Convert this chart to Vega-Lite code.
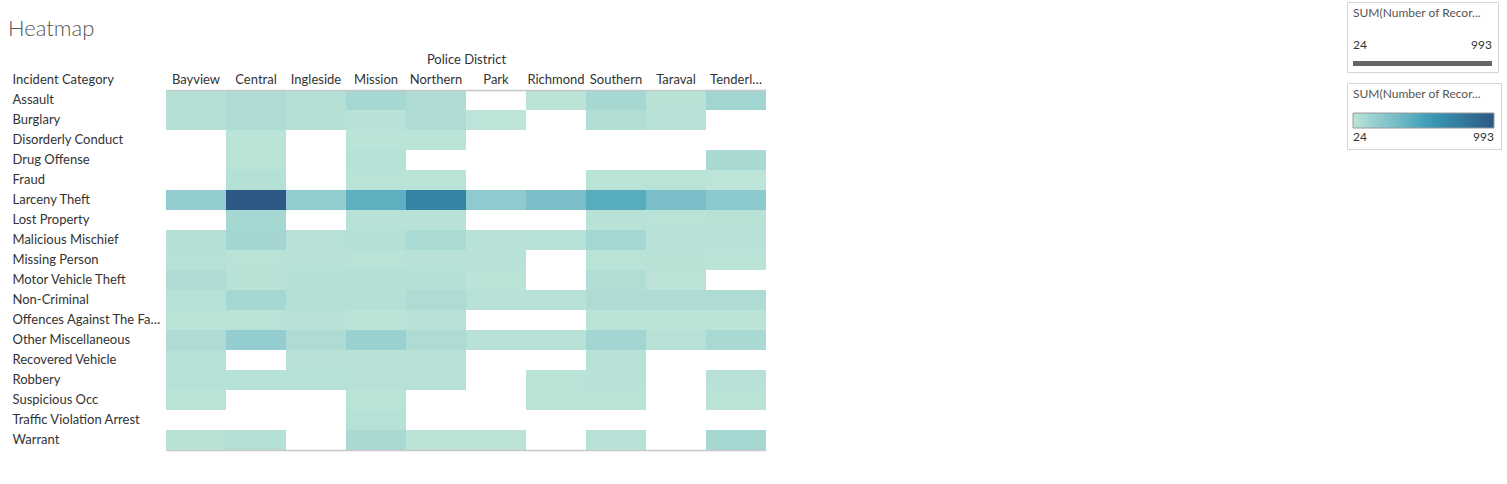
{
  "$schema": "https://vega.github.io/schema/vega-lite/v6.json",
  "width": 600,
  "height": 360,
  "autosize": {"type": "none"},
  "padding": {"left": 166, "top": 90, "right": 741, "bottom": 34},
  "background": "white",
  "config": {"view": {"stroke": null}, "font": "Lato"},
  "title": {"text": "Heatmap", "anchor": "start", "frame": "group", "dx": -158, "dy": 53, "offset": 14, "fontSize": 22, "font": "Lato", "fontWeight": 300, "color": "#555555"},
  "data": {"values": [
    {"category": "Assault", "district": "Bayview", "records": 55},
    {"category": "Assault", "district": "Central", "records": 78},
    {"category": "Assault", "district": "Ingleside", "records": 55},
    {"category": "Assault", "district": "Mission", "records": 110},
    {"category": "Assault", "district": "Northern", "records": 78},
    {"category": "Assault", "district": "Richmond", "records": 28},
    {"category": "Assault", "district": "Southern", "records": 110},
    {"category": "Assault", "district": "Taraval", "records": 36},
    {"category": "Assault", "district": "Tenderloin", "records": 130},
    {"category": "Burglary", "district": "Bayview", "records": 55},
    {"category": "Burglary", "district": "Central", "records": 78},
    {"category": "Burglary", "district": "Ingleside", "records": 55},
    {"category": "Burglary", "district": "Mission", "records": 40},
    {"category": "Burglary", "district": "Northern", "records": 78},
    {"category": "Burglary", "district": "Park", "records": 24},
    {"category": "Burglary", "district": "Southern", "records": 70},
    {"category": "Burglary", "district": "Taraval", "records": 40},
    {"category": "Disorderly Conduct", "district": "Central", "records": 26},
    {"category": "Disorderly Conduct", "district": "Mission", "records": 26},
    {"category": "Disorderly Conduct", "district": "Northern", "records": 26},
    {"category": "Drug Offense", "district": "Central", "records": 32},
    {"category": "Drug Offense", "district": "Mission", "records": 47},
    {"category": "Drug Offense", "district": "Tenderloin", "records": 102},
    {"category": "Fraud", "district": "Central", "records": 55},
    {"category": "Fraud", "district": "Mission", "records": 32},
    {"category": "Fraud", "district": "Northern", "records": 32},
    {"category": "Fraud", "district": "Southern", "records": 32},
    {"category": "Fraud", "district": "Taraval", "records": 30},
    {"category": "Fraud", "district": "Tenderloin", "records": 25},
    {"category": "Larceny Theft", "district": "Bayview", "records": 190},
    {"category": "Larceny Theft", "district": "Central", "records": 993},
    {"category": "Larceny Theft", "district": "Ingleside", "records": 195},
    {"category": "Larceny Theft", "district": "Mission", "records": 412},
    {"category": "Larceny Theft", "district": "Northern", "records": 710},
    {"category": "Larceny Theft", "district": "Park", "records": 210},
    {"category": "Larceny Theft", "district": "Richmond", "records": 292},
    {"category": "Larceny Theft", "district": "Southern", "records": 440},
    {"category": "Larceny Theft", "district": "Taraval", "records": 292},
    {"category": "Larceny Theft", "district": "Tenderloin", "records": 218},
    {"category": "Lost Property", "district": "Central", "records": 110},
    {"category": "Lost Property", "district": "Mission", "records": 40},
    {"category": "Lost Property", "district": "Northern", "records": 40},
    {"category": "Lost Property", "district": "Southern", "records": 40},
    {"category": "Lost Property", "district": "Taraval", "records": 32},
    {"category": "Lost Property", "district": "Tenderloin", "records": 36},
    {"category": "Malicious Mischief", "district": "Bayview", "records": 55},
    {"category": "Malicious Mischief", "district": "Central", "records": 122},
    {"category": "Malicious Mischief", "district": "Ingleside", "records": 40},
    {"category": "Malicious Mischief", "district": "Mission", "records": 55},
    {"category": "Malicious Mischief", "district": "Northern", "records": 94},
    {"category": "Malicious Mischief", "district": "Park", "records": 40},
    {"category": "Malicious Mischief", "district": "Richmond", "records": 47},
    {"category": "Malicious Mischief", "district": "Southern", "records": 110},
    {"category": "Malicious Mischief", "district": "Taraval", "records": 40},
    {"category": "Malicious Mischief", "district": "Tenderloin", "records": 40},
    {"category": "Missing Person", "district": "Bayview", "records": 47},
    {"category": "Missing Person", "district": "Central", "records": 32},
    {"category": "Missing Person", "district": "Ingleside", "records": 40},
    {"category": "Missing Person", "district": "Mission", "records": 32},
    {"category": "Missing Person", "district": "Northern", "records": 40},
    {"category": "Missing Person", "district": "Park", "records": 40},
    {"category": "Missing Person", "district": "Southern", "records": 32},
    {"category": "Missing Person", "district": "Taraval", "records": 36},
    {"category": "Missing Person", "district": "Tenderloin", "records": 26},
    {"category": "Motor Vehicle Theft", "district": "Bayview", "records": 78},
    {"category": "Motor Vehicle Theft", "district": "Central", "records": 36},
    {"category": "Motor Vehicle Theft", "district": "Ingleside", "records": 51},
    {"category": "Motor Vehicle Theft", "district": "Mission", "records": 51},
    {"category": "Motor Vehicle Theft", "district": "Northern", "records": 55},
    {"category": "Motor Vehicle Theft", "district": "Park", "records": 26},
    {"category": "Motor Vehicle Theft", "district": "Southern", "records": 70},
    {"category": "Motor Vehicle Theft", "district": "Taraval", "records": 28},
    {"category": "Non-Criminal", "district": "Bayview", "records": 47},
    {"category": "Non-Criminal", "district": "Central", "records": 110},
    {"category": "Non-Criminal", "district": "Ingleside", "records": 55},
    {"category": "Non-Criminal", "district": "Mission", "records": 55},
    {"category": "Non-Criminal", "district": "Northern", "records": 78},
    {"category": "Non-Criminal", "district": "Park", "records": 40},
    {"category": "Non-Criminal", "district": "Richmond", "records": 40},
    {"category": "Non-Criminal", "district": "Southern", "records": 78},
    {"category": "Non-Criminal", "district": "Taraval", "records": 78},
    {"category": "Non-Criminal", "district": "Tenderloin", "records": 78},
    {"category": "Offences Against The Family", "district": "Bayview", "records": 32},
    {"category": "Offences Against The Family", "district": "Central", "records": 32},
    {"category": "Offences Against The Family", "district": "Ingleside", "records": 40},
    {"category": "Offences Against The Family", "district": "Mission", "records": 28},
    {"category": "Offences Against The Family", "district": "Northern", "records": 40},
    {"category": "Offences Against The Family", "district": "Southern", "records": 28},
    {"category": "Offences Against The Family", "district": "Taraval", "records": 28},
    {"category": "Offences Against The Family", "district": "Tenderloin", "records": 28},
    {"category": "Other Miscellaneous", "district": "Bayview", "records": 78},
    {"category": "Other Miscellaneous", "district": "Central", "records": 189},
    {"category": "Other Miscellaneous", "district": "Ingleside", "records": 78},
    {"category": "Other Miscellaneous", "district": "Mission", "records": 162},
    {"category": "Other Miscellaneous", "district": "Northern", "records": 78},
    {"category": "Other Miscellaneous", "district": "Park", "records": 40},
    {"category": "Other Miscellaneous", "district": "Richmond", "records": 40},
    {"category": "Other Miscellaneous", "district": "Southern", "records": 122},
    {"category": "Other Miscellaneous", "district": "Taraval", "records": 44},
    {"category": "Other Miscellaneous", "district": "Tenderloin", "records": 102},
    {"category": "Recovered Vehicle", "district": "Bayview", "records": 47},
    {"category": "Recovered Vehicle", "district": "Ingleside", "records": 40},
    {"category": "Recovered Vehicle", "district": "Mission", "records": 40},
    {"category": "Recovered Vehicle", "district": "Northern", "records": 40},
    {"category": "Recovered Vehicle", "district": "Southern", "records": 40},
    {"category": "Robbery", "district": "Bayview", "records": 47},
    {"category": "Robbery", "district": "Central", "records": 47},
    {"category": "Robbery", "district": "Ingleside", "records": 47},
    {"category": "Robbery", "district": "Mission", "records": 44},
    {"category": "Robbery", "district": "Northern", "records": 44},
    {"category": "Robbery", "district": "Richmond", "records": 26},
    {"category": "Robbery", "district": "Southern", "records": 40},
    {"category": "Robbery", "district": "Tenderloin", "records": 40},
    {"category": "Suspicious Occ", "district": "Bayview", "records": 26},
    {"category": "Suspicious Occ", "district": "Mission", "records": 26},
    {"category": "Suspicious Occ", "district": "Richmond", "records": 26},
    {"category": "Suspicious Occ", "district": "Southern", "records": 26},
    {"category": "Suspicious Occ", "district": "Tenderloin", "records": 26},
    {"category": "Traffic Violation Arrest", "district": "Mission", "records": 47},
    {"category": "Warrant", "district": "Bayview", "records": 36},
    {"category": "Warrant", "district": "Central", "records": 55},
    {"category": "Warrant", "district": "Mission", "records": 102},
    {"category": "Warrant", "district": "Northern", "records": 28},
    {"category": "Warrant", "district": "Park", "records": 28},
    {"category": "Warrant", "district": "Southern", "records": 40},
    {"category": "Warrant", "district": "Tenderloin", "records": 110}
  ]},
  "layer": [
    {
      "mark": {"type": "rect", "strokeWidth": 0},
      "encoding": {
        "x": {
          "field": "district", "type": "nominal",
          "sort": ["Bayview", "Central", "Ingleside", "Mission", "Northern", "Park", "Richmond", "Southern", "Taraval", "Tenderloin"],
          "scale": {"paddingInner": 0, "paddingOuter": 0},
          "axis": {
            "orient": "top", "title": "Police District", "zindex": 2,
            "titleFont": "Lato", "titleFontSize": 13, "titleFontWeight": "normal", "titleColor": "#333333",
            "titleBaseline": "middle", "titleY": -31,
            "labelAngle": 0, "labelBaseline": "middle", "labelPadding": 11,
            "labelFont": "Lato", "labelFontSize": 13, "labelColor": "#333333", "labelLimit": 58,
            "ticks": false, "tickSize": 0, "domain": true, "domainColor": "#c8c8c8", "domainWidth": 1.5, "grid": false
          }
        },
        "y": {
          "field": "category", "type": "nominal",
          "sort": ["Assault", "Burglary", "Disorderly Conduct", "Drug Offense", "Fraud", "Larceny Theft", "Lost Property", "Malicious Mischief", "Missing Person", "Motor Vehicle Theft", "Non-Criminal", "Offences Against The Family", "Other Miscellaneous", "Recovered Vehicle", "Robbery", "Suspicious Occ", "Traffic Violation Arrest", "Warrant"],
          "scale": {"paddingInner": 0, "paddingOuter": 0},
          "axis": {
            "orient": "left", "title": "Incident Category",
            "titleAngle": 0, "titleAlign": "left", "titleBaseline": "middle", "titleX": -154, "titleY": -11,
            "titleFont": "Lato", "titleFontSize": 13, "titleFontWeight": "normal", "titleColor": "#333333",
            "labelAlign": "left", "labelPadding": 154, "labelFont": "Lato", "labelFontSize": 13, "labelColor": "#333333", "labelLimit": 154,
            "ticks": false, "tickSize": 0, "domain": false, "grid": false
          }
        },
        "fill": {
          "field": "records", "type": "quantitative",
          "scale": {"scheme": "tealblues", "domain": [24, 993]},
          "legend": {
            "orient": "none", "legendX": 1181, "legendY": -7, "direction": "horizontal", "type": "gradient",
            "gradientLength": 141, "gradientThickness": 15, "gradientStrokeColor": "#9a9a9a", "gradientStrokeWidth": 1,
            "values": [24, 993], "title": "SUM(Number of Recor...",
            "titleFont": "Lato", "titleFontSize": 12, "titleFontWeight": "normal", "titleColor": "#555555", "titlePadding": 12,
            "labelFont": "Lato", "labelFontSize": 12, "labelColor": "#333333", "labelOffset": 4,
            "padding": 6, "strokeColor": "#d4d4d4", "fillColor": "#ffffff"
          }
        },
        "stroke": {
          "field": "records", "type": "quantitative",
          "scale": {"zero": false, "range": ["#666666", "#666666"]},
          "legend": {
            "orient": "none", "legendX": 1181, "legendY": -88, "direction": "horizontal", "type": "gradient",
            "gradientLength": 139, "gradientThickness": 5, "gradientStrokeWidth": 0,
            "values": [24, 993], "title": "SUM(Number of Recor...",
            "titleFont": "Lato", "titleFontSize": 12, "titleFontWeight": "normal", "titleColor": "#555555", "titlePadding": 41,
            "labelFont": "Lato", "labelFontSize": 12, "labelColor": "#333333", "labelOffset": -26,
            "padding": 6, "strokeColor": "#d4d4d4", "fillColor": "#ffffff"
          }
        }
      }
    },
    {
      "mark": {"type": "rect", "opacity": 0},
      "encoding": {
        "x": {
          "field": "district", "type": "nominal",
          "sort": ["Bayview", "Central", "Ingleside", "Mission", "Northern", "Park", "Richmond", "Southern", "Taraval", "Tenderloin"],
          "axis": {"orient": "bottom", "title": null, "labels": false, "ticks": false, "domain": true, "domainColor": "#c8c8c8", "domainWidth": 1.5, "grid": false}
        },
        "y": {
          "field": "category", "type": "nominal",
          "sort": ["Assault", "Burglary", "Disorderly Conduct", "Drug Offense", "Fraud", "Larceny Theft", "Lost Property", "Malicious Mischief", "Missing Person", "Motor Vehicle Theft", "Non-Criminal", "Offences Against The Family", "Other Miscellaneous", "Recovered Vehicle", "Robbery", "Suspicious Occ", "Traffic Violation Arrest", "Warrant"],
          "axis": null
        }
      }
    }
  ],
  "resolve": {"axis": {"x": "independent", "y": "independent"}}
}
